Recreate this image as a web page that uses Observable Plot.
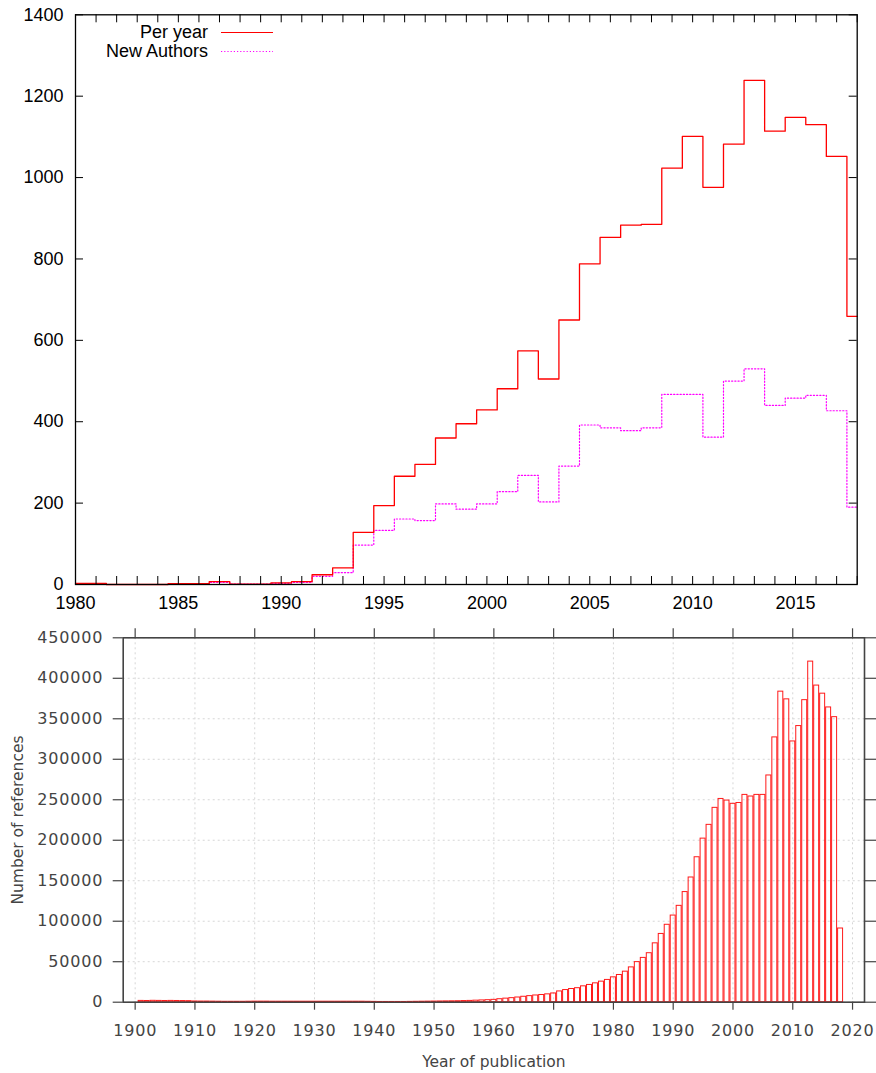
<!DOCTYPE html>
<html>
<head>
<meta charset="utf-8">
<script src="https://cdn.jsdelivr.net/npm/d3@7"></script>
<script src="https://cdn.jsdelivr.net/npm/@observablehq/plot@0.6"></script>
<style>
  html, body { margin: 0; padding: 0; background: #fff; }
  #wrap { position: relative; width: 876px; height: 1073px; overflow: hidden; background: #fff; }
  #top, #bottom, #legend { position: absolute; left: 0; }
  #top { top: 0; }
  #bottom { top: 612px; }
  #legend { top: 0; pointer-events: none; }
  .topchart text { font-family: "Liberation Sans", Arial, sans-serif; font-size: 18px; fill: #000; }
  .botchart text { font-family: "DejaVu Sans", sans-serif; font-size: 15.5px; fill: #444; }
  .botchart g[aria-label="x-axis tick label"] text,
  .botchart g[aria-label="y-axis tick label"] text { font-size: 16px; letter-spacing: 0.8px; }
  #legend text { font-family: "Liberation Sans", Arial, sans-serif; font-size: 18px; fill: #000; }
</style>
</head>
<body>
<div id="wrap">
  <div id="top"></div>
  <div id="bottom"></div>
  <svg id="legend" width="876" height="70">
    <text x="208" y="32" text-anchor="end" dominant-baseline="central">Per year</text>
    <line x1="221" x2="273" y1="32.5" y2="32.5" stroke="#ff0000" stroke-width="1.2"></line>
    <text x="208" y="51" text-anchor="end" dominant-baseline="central">New Authors</text>
    <line x1="221" x2="273" y1="51.5" y2="51.5" stroke="#ff00ff" stroke-width="1.2" stroke-dasharray="1.2,2"></line>
  </svg>
</div>
<script>
// ---------- Top chart data ----------
const topYears = [1980,1981,1982,1983,1984,1985,1986,1987,1988,1989,
                  1990,1991,1992,1993,1994,1995,1996,1997,1998,1999,
                  2000,2001,2002,2003,2004,2005,2006,2007,2008,2009,
                  2010,2011,2012,2013,2014,2015,2016,2017,2018];
const perYear = [3,3,0,0,0,2,2,7,1,1,
                 4,7,24,41,128,194,266,295,360,395,
                 429,481,574,505,650,788,853,883,885,1023,
                 1101,976,1082,1239,1114,1148,1130,1052,659];
const newAuthors = [2,2,0,0,0,1,1,5,1,1,
                    3,5,20,29,97,133,161,157,198,185,
                    198,228,268,203,291,392,385,378,385,467,
                    467,362,500,530,440,458,465,427,190];
const topXLabels = [1980,1985,1990,1995,2000,2005,2010,2015];
const topYTicks = [0,200,400,600,800,1000,1200,1400];

// ---------- Bottom chart data ----------
const refYears = [1901,1902,1903,1904,1905,1906,1907,1908,1909,1910,
                  1911,1912,1913,1914,1915,1916,1917,1918,1919,1920,
                  1921,1922,1923,1924,1925,1926,1927,1928,1929,1930,
                  1931,1932,1933,1934,1935,1936,1937,1938,1939,1940,
                  1941,1942,1943,1944,1945,1946,1947,1948,1949,1950,
                  1951,1952,1953,1954,1955,1956,1957,1958,1959,1960,
                  1961,1962,1963,1964,1965,1966,1967,1968,1969,1970,
                  1971,1972,1973,1974,1975,1976,1977,1978,1979,1980,
                  1981,1982,1983,1984,1985,1986,1987,1988,1989,1990,
                  1991,1992,1993,1994,1995,1996,1997,1998,1999,2000,
                  2001,2002,2003,2004,2005,2006,2007,2008,2009,2010,
                  2011,2012,2013,2014,2015,2016,2017,2018];
const references = [1600,1500,1700,1600,1500,1600,1500,1400,1300,900,
                    800,800,700,600,500,500,500,500,600,700,
                    700,700,600,600,600,600,600,600,600,600,
                    600,600,600,600,600,600,600,600,500,400,
                    300,300,300,300,300,400,500,600,700,800,
                    900,1000,1100,1200,1400,1600,1900,2200,2500,2900,
                    3700,4400,5000,5800,6700,7500,8300,8900,9700,10800,
                    13300,15000,16300,17300,19600,21300,23300,25400,27500,30700,
                    33600,37700,43000,49500,54700,60500,72700,84300,95600,107000,
                    119000,136000,154000,179000,202000,219000,240000,251000,249000,245000,
                    246000,256000,254000,256000,256000,280000,327000,383500,374000,322000,
                    341000,373000,420600,391000,381000,364000,352000,91000];
const decadeTicks = [1900,1910,1920,1930,1940,1950,1960,1970,1980,1990,2000,2010,2020];
const refYTicks = [0,50000,100000,150000,200000,250000,300000,350000,400000,450000];

// ---------- Top chart ----------
const topW = 876, topH = 612;
const tM = {top: 14.3, right: 19.3, bottom: 28, left: 75};
const tPlotW = topW - tM.left - tM.right;
const tPlotH = topH - tM.top - tM.bottom;
const perYearData = topYears.map((y, i) => ({year: y, value: perYear[i]}));
const newAuthorsData = topYears.map((y, i) => ({year: y, value: newAuthors[i]}));

const topChart = Plot.plot({
  width: topW, height: topH,
  marginTop: tM.top, marginRight: tM.right, marginBottom: tM.bottom, marginLeft: tM.left,
  className: "topchart",
  style: {background: "white", color: "black", overflow: "visible"},
  x: {domain: [1980, 2018], axis: null},
  y: {domain: [0, 1400], axis: null},
  marks: [
    Plot.line(newAuthorsData, {x: "year", y: "value", curve: "step", stroke: "#ff00ff", strokeWidth: 1.2, strokeDasharray: "1.2,2"}),
    Plot.line(perYearData, {x: "year", y: "value", curve: "step", stroke: "#ff0000", strokeWidth: 1.3}),
    Plot.tickX(topYears, {x: d => d, insetTop: tPlotH - 8, stroke: "black", strokeWidth: 1}),
    Plot.tickX(topYears, {x: d => d, insetBottom: tPlotH - 8, stroke: "black", strokeWidth: 1}),
    Plot.tickY(topYTicks, {y: d => d, insetRight: tPlotW - 8, stroke: "black", strokeWidth: 1}),
    Plot.tickY(topYTicks, {y: d => d, insetLeft: tPlotW - 8, stroke: "black", strokeWidth: 1}),
    Plot.frame({stroke: "black", strokeWidth: 1.3}),
    Plot.axisX(topXLabels, {anchor: "bottom", tickSize: 0, tickPadding: 12, tickFormat: d => String(d), label: null}),
    Plot.axisY(topYTicks, {anchor: "left", tickSize: 0, tickPadding: 12, tickFormat: d => String(d), label: null})
  ]
});
document.getElementById("top").appendChild(topChart);

// ---------- Bottom chart ----------
const botW = 876, botH = 461;
const refData = refYears.map((y, i) => ({year: y, value: references[i]}));

const bottomChart = Plot.plot({
  width: botW, height: botH,
  marginTop: 25.3, marginRight: 12, marginBottom: 71.3, marginLeft: 122.7,
  className: "botchart",
  style: {background: "white", color: "#444", overflow: "visible"},
  x: {domain: [1898, 2022], axis: null},
  y: {domain: [0, 450000], axis: null},
  marks: [
    Plot.gridX(decadeTicks, {stroke: "#d6d6d6", strokeOpacity: 1, strokeDasharray: "2,3"}),
    Plot.gridY(refYTicks, {stroke: "#d6d6d6", strokeOpacity: 1, strokeDasharray: "2,3"}),
    Plot.rectY(refData, {x1: d => d.year - 0.5, x2: d => d.year + 0.5, y: "value", fill: "none", stroke: "#ff0000", strokeWidth: 1, strokeOpacity: 0.9, insetLeft: 0.5, insetRight: 0.5}),
    Plot.frame({stroke: "#444", strokeWidth: 1.6}),
    Plot.axisX(decadeTicks, {anchor: "bottom", tickSize: 8, tickPadding: 14, tickFormat: d => String(d), label: null, strokeWidth: 1.2}),
    Plot.axisX(decadeTicks, {anchor: "top", tickSize: 10, tickFormat: () => "", label: null, strokeWidth: 1.2}),
    Plot.axisY(refYTicks, {anchor: "left", tickSize: 10, tickPadding: 10, tickFormat: d => String(d), label: null, strokeWidth: 1.2}),
    Plot.axisY(refYTicks, {anchor: "right", tickSize: 11, tickFormat: () => "", label: null, strokeWidth: 1.2}),
    Plot.text(["Year of publication"], {frameAnchor: "bottom", dy: 60, lineAnchor: "middle", textAnchor: "middle", fill: "#444"}),
    Plot.text(["Number of references"], {frameAnchor: "left", dx: -105, rotate: -90, textAnchor: "middle", lineAnchor: "middle", fill: "#444"})
  ]
});
document.getElementById("bottom").appendChild(bottomChart);
</script>
</body>
</html>
